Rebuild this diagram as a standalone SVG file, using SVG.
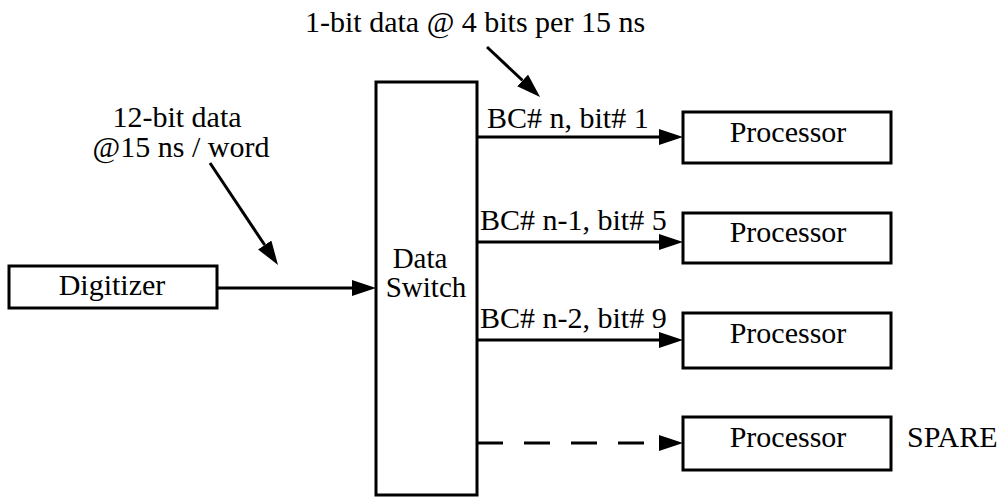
<svg xmlns="http://www.w3.org/2000/svg" width="1004" height="497" viewBox="0 0 1004 497">
<style>
text{font-family:"Liberation Serif","Times New Roman",serif;font-size:30px;fill:#000}
.box{fill:#fff;stroke:#000;stroke-width:3}
.ln{stroke:#000;stroke-width:3;fill:none}
.dash{stroke-dasharray:26 21}
.mid{text-anchor:middle}
</style>
<defs>
<marker id="ah" markerUnits="userSpaceOnUse" markerWidth="24" markerHeight="16" viewBox="0 -8 24 16" refX="0" refY="0" orient="auto">
<path d="M0,-8 L24,0 L0,8 z" fill="#000"/>
</marker>
</defs>
<rect width="1004" height="497" fill="#fff"/>
<g id="connectors">
<line class="ln" x1="217" y1="288" x2="352" y2="288" marker-end="url(#ah)"/>
<line class="ln" x1="210" y1="163" x2="264.7" y2="245" marker-end="url(#ah)"/>
<line class="ln" x1="487" y1="47" x2="522.6" y2="80.5" marker-end="url(#ah)"/>
<line class="ln" x1="477" y1="137" x2="659" y2="137" marker-end="url(#ah)"/>
<line class="ln" x1="477" y1="242" x2="659" y2="242" marker-end="url(#ah)"/>
<line class="ln" x1="477" y1="340" x2="659" y2="340" marker-end="url(#ah)"/>
<line class="ln dash" x1="477" y1="443" x2="659" y2="443" marker-end="url(#ah)"/>
</g>
<g id="labels">
<text x="305" y="32">1-bit data @ 4 bits per 15 ns</text>
<text class="mid" x="177" y="127">12-bit data</text>
<text class="mid" x="181" y="157">@15 ns / word</text>
<text x="487" y="128">BC# n, bit# 1</text>
<text x="480" y="230">BC# n-1, bit# 5</text>
<text x="480" y="328">BC# n-2, bit# 9</text>
</g>
<g id="digitizer">
<rect class="box" x="9" y="266" width="208" height="42"/>
<text class="mid" x="112" y="295">Digitizer</text>
</g>
<g id="data-switch">
<rect class="box" x="376" y="82" width="101" height="413"/>
<text class="mid" x="420" y="268" style="font-size:29px">Data</text>
<text class="mid" x="426" y="297" style="font-size:29px">Switch</text>
</g>
<g id="processor-1">
<rect class="box" x="683" y="112" width="208" height="51"/>
<text class="mid" x="788" y="142">Processor</text>
</g>
<g id="processor-2">
<rect class="box" x="683" y="213" width="208" height="50"/>
<text class="mid" x="788" y="242">Processor</text>
</g>
<g id="processor-3">
<rect class="box" x="683" y="313" width="208" height="55"/>
<text class="mid" x="788" y="343">Processor</text>
</g>
<g id="processor-4">
<rect class="box" x="683" y="417" width="208" height="53"/>
<text class="mid" x="788" y="447">Processor</text>
</g>
<text x="907" y="447">SPARE</text>
</svg>
